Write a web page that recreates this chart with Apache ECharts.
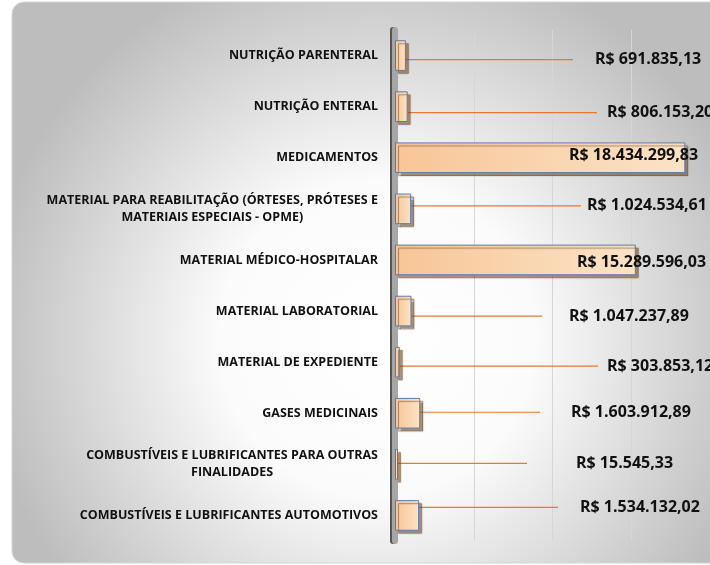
<!DOCTYPE html>
<html>
<head>
<meta charset="utf-8">
<script src="https://cdn.jsdelivr.net/npm/echarts@6/dist/echarts.min.js"></script>
<style>
  html, body { margin: 0; padding: 0; background: #fff; }
  #chart { width: 710px; height: 565px; }
</style>
</head>
<body>
<div id="chart"></div>
<script>
// categories, top to bottom
const categories = [
  'NUTRIÇÃO PARENTERAL',
  'NUTRIÇÃO ENTERAL',
  'MEDICAMENTOS',
  'MATERIAL PARA REABILITAÇÃO (ÓRTESES, PRÓTESES E\nMATERIAIS ESPECIAIS - OPME)',
  'MATERIAL MÉDICO-HOSPITALAR',
  'MATERIAL LABORATORIAL',
  'MATERIAL DE EXPEDIENTE',
  'GASES MEDICINAIS',
  'COMBUSTÍVEIS E LUBRIFICANTES PARA OUTRAS\nFINALIDADES',
  'COMBUSTÍVEIS E LUBRIFICANTES AUTOMOTIVOS'
]
const values = [
  691835.13, 806153.20, 18434299.83, 1024534.61, 15289596.03,
  1047237.89, 303853.12, 1603912.89, 15545.33, 1534132.02
]

// where the value labels were dragged to (left edge of text) + small vertical nudge
const labelLeft = [595, 607, 569, 587, 577, 569, 607, 571, 576, 580]
const labelDy = [4, 6, -2, -3, 2, 5, 4, -1, -1, -8]
// leader line stops this far before the text
const lineGap = [22, 10, 0, 6, 0, 27, 9, 31, 49, 22]

function brl(v) {
  const parts = v.toFixed(2).split('.')
  const int = parts[0].replace(/\B(?=(\d{3})+(?!\d))/g, '.')
  return 'R$ ' + int + ',' + parts[1]
}

const chart = echarts.init(document.getElementById('chart'))

const leaderStyle = { color: '#e8782a', width: 1.2 }
const seriesData = values.map(v => ({
  value: v,
  labelLine: { show: v < 5e6, lineStyle: leaderStyle }
}))

const valueFont = { fontFamily: 'Open Sans', fontWeight: 'bold', fontSize: 16, color: '#111' }
const valueRich = { t: valueFont }
lineGap.forEach((g, i) => { valueRich['g' + i] = { width: g, height: 1 } })

const labelFont = { fontFamily: 'Open Sans', fontWeight: 'bold', fontSize: 12.5, color: '#111', lineHeight: 17 }

chart.setOption({
  animation: false,
  graphic: [{
    type: 'rect',
    z: -10,
    silent: true,
    shape: { x: 12, y: 2, width: 730, height: 561, r: 12 },
    style: {
      fill: new echarts.graphic.RadialGradient(0.5, 0.6, 0.7, [
        { offset: 0, color: '#ffffff' },
        { offset: 0.4, color: '#fbfbfb' },
        { offset: 1, color: '#bdbdbd' }
      ]),
      stroke: '#d4d4d4',
      lineWidth: 1
    }
  }],
  grid: { left: 395, top: 30, bottom: 24, width: 316 },
  xAxis: {
    type: 'value',
    min: 0,
    max: 20000000,
    interval: 5000000,
    axisLabel: { show: false },
    axisLine: { show: false },
    axisTick: { show: false },
    splitLine: { lineStyle: { color: '#d6d6d6', width: 1 } }
  },
  yAxis: {
    type: 'category',
    inverse: true,
    data: categories,
    axisTick: { show: false },
    axisLine: {
      lineStyle: {
        color: '#a6a6a6',
        width: 6,
        shadowColor: '#555',
        shadowOffsetX: -2,
        shadowBlur: 0
      }
    },
    axisLabel: Object.assign({
      margin: 17,
      formatter: v => v.split('\n').map(l => '{c|' + l + '}').join('\n'),
      rich: { c: Object.assign({ align: 'center' }, labelFont) }
    }, labelFont)
  },
  series: [{
    type: 'bar',
    data: seriesData,
    barWidth: '60%',
    barMinHeight: 3,
    itemStyle: {
      color: new echarts.graphic.LinearGradient(0, 0, 1, 0, [
        { offset: 0, color: '#f8c597' },
        { offset: 1, color: '#fbe3c6' }
      ]),
      borderColor: '#5a7bb0',
      borderWidth: 1,
      shadowColor: 'rgba(110,75,45,0.6)',
      shadowOffsetX: 3,
      shadowOffsetY: 3,
      shadowBlur: 1
    },
    label: Object.assign({
      show: true,
      position: 'right',
      rich: valueRich,
      formatter: p => '{g' + p.dataIndex + '|}{t|' + brl(p.value) + '}'
    }, valueFont),
    labelLine: {
      show: true,
      lineStyle: leaderStyle
    },
    labelLayout: p => ({
      x: labelLeft[p.dataIndex] - lineGap[p.dataIndex],
      y: p.rect.y + p.rect.height / 2 + labelDy[p.dataIndex],
      align: 'left',
      verticalAlign: 'middle'
    })
  }]
})
</script>
</body>
</html>
